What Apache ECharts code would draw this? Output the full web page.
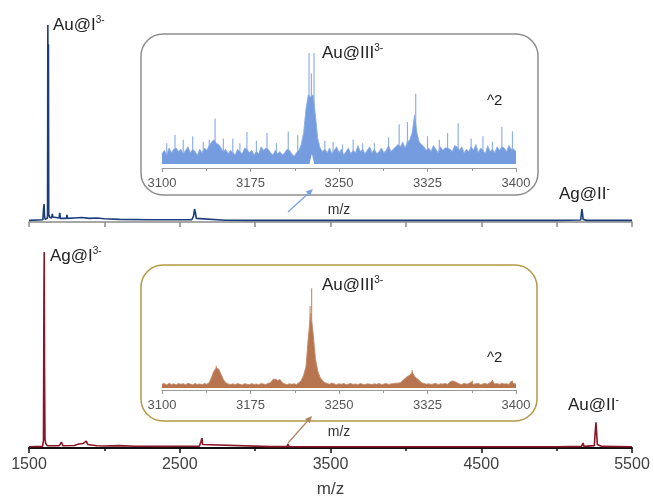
<!DOCTYPE html>
<html>
<head>
<meta charset="utf-8">
<script src="https://cdn.jsdelivr.net/npm/echarts@6/dist/echarts.min.js"></script>
<style>html,body{margin:0;padding:0;background:#fff;}#c{width:654px;height:503px;}</style>
</head>
<body>
<div id="c"></div>
<script>
// ---- data (m/z, relative intensity) ----
const mainTickStep = 1000;   // labelled ticks 1500, 2500, ... 5500
const insetTickStep = 75;    // labelled ticks 3100, 3175, ... 3400

const topMain = [[1500,0.8],[1560,1],[1592,1.1],[1596,6],[1600,8.9],[1603,3],[1607,1.3],[1621,1.8],[1623,3],[1625,97.5],[1627,55],[1629,88],[1631,4],[1636,2.5],[1650,2],[1655,4],[1658,2.5],[1663,2],[1700,2],[1704,4.5],[1708,1.8],[1748,1.8],[1752,3.5],[1756,1.8],[1800,2],[1850,2.2],[1900,1.8],[1950,2],[2000,1.6],[2100,1.3],[2300,1.1],[2580,1.1],[2592,3],[2598,6.4],[2603,5],[2610,1.8],[2620,1],[2800,0.9],[3000,0.8],[3212,0.8],[3218,1.3],[3224,0.8],[4200,0.8],[4900,0.8],[4996,0.8],[5000,1.3],[5004,0.8],[5160,1],[5164,4],[5168,6.4],[5172,4],[5176,1.3],[5200,0.8],[5500,0.8]];

const bottomMain = [[1500,0.6],[1590,0.8],[1596,4],[1599,76],[1601,99],[1603,40],[1606,4.5],[1610,2.5],[1620,1.2],[1700,1.1],[1715,3],[1725,1.1],[1800,1.3],[1830,2],[1860,2.3],[1880,3.5],[1890,1.8],[1950,1.1],[2000,1],[2100,1.2],[2200,0.9],[2400,0.8],[2500,0.9],[2630,0.9],[2640,3],[2647,5],[2652,1.8],[2660,0.8],[3100,0.7],[3144,0.7],[3150,1.5],[3156,0.7],[3212,0.7],[3218,2],[3224,0.7],[4000,0.6],[5002,0.6],[5009,1.6],[5015,0.6],[5165,0.8],[5175,2.5],[5182,0.8],[5250,1.2],[5256,8],[5261,13],[5265,8],[5270,1.8],[5300,0.8],[5307,1.6],[5312,0.6],[5500,0.6]];

const insetStart = 3100, insetStep = 2;
const topInset = [
 12,15,11,17,13,16,17,14,16,12,
 15,18,13,16,14,11,16,13,17,15,
 19,22,24,21,20,17,14,16,12,15,
 13,11,16,14,12,17,16,13,15,11,
 14,12,18,15,17,16,13,11,15,12,
 14,11,13,16,15,12,10,13,15,20,
 30,50,62,60,62,45,25,17,14,16,
 13,17,12,15,18,13,16,11,14,17,
 12,15,13,19,14,16,12,15,18,13,
 16,12,14,17,13,15,19,14,16,18,
 20,18,22,17,22,24,30,45,30,22,
 20,18,15,17,14,19,16,13,18,15,
 17,17,16,14,19,18,15,18,13,16,
 14,18,15,20,13,17,15,12,19,14,
 16,13,18,15,18,17,14,19,16,16,
 14];
const topInsetSpikes = [[3104,21],[3111,28],[3118,24],[3126,27],[3135,22],[3140,24],[3145,42],[3152,25],[3160,25],[3166,21],[3172,30.5],[3180,23],[3189,29.7],[3197,21],[3207,31],[3215,28],[3224.6,97.5],[3226.6,80],[3228.8,97.5],[3238,23],[3245,22],[3253,20],[3262,24],[3270,21],[3280,21],[3292,26],[3301,37],[3308,39],[3315,63],[3325,27],[3335,24],[3342,29.7],[3351,38],[3362,25],[3372,27],[3380,22],[3388,35],[3397,31]];
const bottomInset = [
 5.5,6.2,4.8,6.5,5.2,5.9,4.9,6.3,5.4,6.0,
 5.1,6.4,5.6,4.9,6.1,5.3,5.8,5.0,6.2,5.5,
 7,12,18,21,20,15,10,7,5.8,5.2,
 5.9,5.1,6.3,5.4,4.8,6.0,5.5,5.0,6.1,5.3,
 5.7,4.9,6.2,5.6,5.2,6.4,7,10,10.5,9,
 10,7,5.8,5.1,6.0,5.4,5.9,5.2,7,9,
 14,22,50,73,55,30,18,12,9,7,
 6.2,5.5,6.6,5.8,5.1,6.0,5.4,6.3,5.0,5.7,
 6.1,5.3,5.8,4.9,6.2,5.5,5.1,6.0,5.6,5.2,
 5.9,5.4,6.3,5.0,5.7,6.1,5.3,5.8,6.0,6.5,
 6.5,7,9,11,13,14,17,13,11,9,
 7,6.2,5.5,6.0,5.3,5.8,6.4,5.1,5.9,5.6,
 6.2,5.4,7.5,8.6,8,7,5.8,5.2,6.3,5.6,
 6.0,7.8,5.3,5.9,6.4,5.1,5.8,6.2,5.5,6.9,
 8.8,5.6,6.1,5.4,6.3,5.7,6.0,5.2,8.5,6.1,
 5.8];
const bottomInsetSpikes = [[3226.8,97],[3225.5,80],[3146,23],[3312,19],[3363,9],[3380,9.5],[3397,9]];
const topNotch = [[3221,3.4],[3225,3.4],[3227,12],[3229,3.4],[3233,3.4]];
const topInsetBase = 3.4, bottomInsetBase = 1.9;

// ---- build ----
const toPairs = arr => arr.map((v, i) => [insetStart + insetStep * i, v]);
const FONT = '"Liberation Sans", Arial, sans-serif';

const chart = echarts.init(document.getElementById('c'), null, {renderer: 'canvas'});

function mainX(gi, showLabels, color, lw) {
  return {
    type: 'value', gridIndex: gi, min: 1500, max: 5500,
    interval: showLabels ? mainTickStep : mainTickStep / 2,
    splitLine: {show: false},
    axisLine: {show: true, onZero: false, lineStyle: {color: color, width: lw}},
    axisTick: {show: true, length: 5, lineStyle: {color: color, width: 1.5}},
    minorTick: {show: showLabels, splitNumber: 2, length: 3, lineStyle: {color: color, width: 1.5}},
    minorSplitLine: {show: false},
    axisLabel: {show: showLabels, margin: 9, fontSize: 16, color: '#404040', fontFamily: FONT,
      formatter: v => String(v)},
    name: showLabels ? 'm/z' : '', nameLocation: 'middle', nameGap: 33,
    nameTextStyle: {fontSize: 17, color: '#404040', fontFamily: FONT}
  };
}
function insetX(gi, off) {
  return {
    type: 'value', gridIndex: gi, min: 3100, max: 3400, interval: insetTickStep, offset: off,
    splitLine: {show: false},
    axisLine: {show: true, onZero: false, lineStyle: {color: '#9a9a9a', width: 1}},
    axisTick: {show: true, length: 4, lineStyle: {color: '#9a9a9a'}},
    minorTick: {show: true, splitNumber: 2, length: 3, lineStyle: {color: '#9a9a9a'}},
    axisLabel: {show: true, margin: 9, fontSize: 13, color: '#555', fontFamily: FONT, formatter: v => String(v)},
    name: 'm/z', nameLocation: 'middle', nameGap: 35,
    nameTextStyle: {fontSize: 14, color: '#333', fontFamily: FONT}
  };
}
const yAx = (gi, mn) => ({type: 'value', gridIndex: gi, min: mn, max: 100, show: false});

function supLabel(main, sup, left, top, size) {
  return {
    type: 'text', left: left, top: top, z: 50,
    style: {
      text: '{a|' + main + '}{s|' + sup + '}',
      rich: {
        a: {fontSize: size, fontFamily: FONT, fill: '#222', lineHeight: size + 3},
        s: {fontSize: Math.round(size * 0.6), fontFamily: FONT, fill: '#222', verticalAlign: 'top', lineHeight: Math.round(size * 0.6)}
      }
    }
  };
}
function arrow(x1, y1, x2, y2, color) {
  const dx = x2 - x1, dy = y2 - y1, L = Math.hypot(dx, dy), ux = dx / L, uy = dy / L;
  const hl = 7, hw = 3.2, bx = x2 - ux * hl, by = y2 - uy * hl;
  return [
    {type: 'line', z: 50, shape: {x1: x1, y1: y1, x2: bx, y2: by}, style: {stroke: color, lineWidth: 1.2}},
    {type: 'polygon', z: 50, shape: {points: [[x2, y2], [bx - uy * hw, by + ux * hw], [bx + uy * hw, by - ux * hw]]}, style: {fill: color}}
  ];
}

const option = {
  animation: false,
  backgroundColor: '#fff',
  grid: [
    {left: 29, right: 22, top: 20, height: 202},
    {left: 29, right: 22, top: 250, height: 198},
    {left: 162, right: 138, top: 50, height: 114},
    {left: 162, right: 138, top: 285, height: 103}
  ],
  xAxis: [mainX(0, false, '#8a8a8a', 1.5), mainX(1, true, '#111', 2), insetX(2, 4), insetX(3, 2)],
  yAxis: [yAx(0, 0), yAx(1, 0), yAx(2, topInsetBase), yAx(3, bottomInsetBase)],
  series: [
    {type: 'line', xAxisIndex: 0, yAxisIndex: 0, data: topMain, showSymbol: false,
      lineStyle: {color: '#1b3d7a', width: 1.6}, z: 3},
    {type: 'line', xAxisIndex: 1, yAxisIndex: 1, data: bottomMain, showSymbol: false,
      lineStyle: {color: '#8a1527', width: 1.6}, z: 3},
    {type: 'bar', xAxisIndex: 2, yAxisIndex: 2, data: topInsetSpikes, barWidth: 1.2,
      itemStyle: {color: '#8fb0e8'}, z: 2},
    {type: 'line', xAxisIndex: 2, yAxisIndex: 2, data: toPairs(topInset), showSymbol: false,
      lineStyle: {color: '#8aace6', width: 0.8},
      areaStyle: {color: '#749cdf', opacity: 1}, z: 3},
    {type: 'line', xAxisIndex: 2, yAxisIndex: 2, data: topNotch, showSymbol: false,
      lineStyle: {width: 0}, areaStyle: {color: '#fff', opacity: 1}, z: 4},
    {type: 'bar', xAxisIndex: 3, yAxisIndex: 3, data: bottomInsetSpikes, barWidth: 1.2,
      itemStyle: {color: '#c4957a'}, z: 2},
    {type: 'line', xAxisIndex: 3, yAxisIndex: 3, data: toPairs(bottomInset), showSymbol: false,
      lineStyle: {color: '#c28a69', width: 0.9},
      areaStyle: {color: '#b7744f', opacity: 1}, z: 3}
  ],
  graphic: [
    {type: 'rect', z: 10, shape: {x: 141, y: 34, width: 397, height: 161, r: 22},
      style: {fill: 'none', stroke: '#8e8e8e', lineWidth: 1.5}},
    {type: 'rect', z: 10, shape: {x: 141, y: 265, width: 396, height: 156, r: 22},
      style: {fill: 'none', stroke: '#b39a48', lineWidth: 1.5}},
    supLabel('Au@I', '3-', 53, 15, 17),
    supLabel('Ag@II', '-', 559, 184, 17),
    supLabel('Ag@I', '3-', 50, 246, 17),
    supLabel('Au@II', '-', 568, 395, 17),
    supLabel('Au@III', '3-', 322, 43, 17),
    supLabel('Au@III', '3-', 322, 275, 17),
    {type: 'text', left: 487, top: 93, z: 50, style: {text: '^2', fontSize: 15, fontFamily: FONT, fill: '#222'}},
    {type: 'text', left: 487, top: 350, z: 50, style: {text: '^2', fontSize: 15, fontFamily: FONT, fill: '#222'}},
    ...arrow(288, 212, 313, 189, '#7aa2e0'),
    ...arrow(288, 443, 312, 416, '#b08466')
  ]
};
chart.setOption(option);
</script>
</body>
</html>
